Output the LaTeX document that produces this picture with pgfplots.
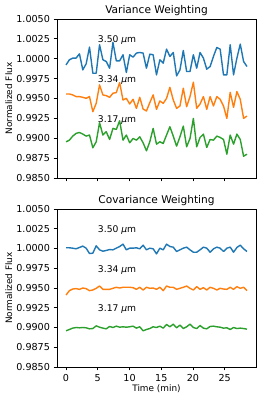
\documentclass[border=0pt]{standalone}
\usepackage{fontspec}
\setmainfont{DejaVu Sans}
\usepackage{pgfplots}
\usepackage{pgfplotstable}
\pgfplotsset{compat=1.18}
\definecolor{tabblue}{HTML}{1F77B4}
\definecolor{taborange}{HTML}{FF7F0E}
\definecolor{tabgreen}{HTML}{2CA02C}

\pgfplotstableread{
t b o g
0.000 0.99923 0.99557 0.98955
0.528 0.99987 0.99557 0.98976
1.056 1.00008 0.99545 0.99027
1.583 1.00008 0.99524 0.99061
2.111 1.00062 0.99524 0.99073
2.639 0.99860 0.99515 0.99052
3.167 0.99936 0.99502 0.99027
3.694 1.00146 0.99524 0.99040
4.222 0.99818 0.99334 0.98880
4.750 0.99818 0.99439 0.98955
5.278 1.00176 0.99671 0.99195
5.806 0.99987 0.99545 0.99040
6.333 0.99965 0.99536 0.99082
6.861 0.99881 0.99515 0.98985
7.389 1.00205 0.99566 0.99124
7.917 0.99974 0.99574 0.99111
8.444 0.99974 0.99700 0.99220
8.972 1.00050 0.99481 0.98976
9.500 0.99827 0.99502 0.99040
10.028 1.00050 0.99431 0.98943
10.556 1.00020 0.99490 0.98997
11.083 1.00071 0.99376 0.98976
11.611 1.00079 0.99515 0.99018
12.139 1.00071 0.99368 0.98943
12.667 0.99881 0.99343 0.98842
13.194 1.00058 0.99448 0.98955
13.722 1.00050 0.99545 0.99124
14.250 0.99797 0.99364 0.98926
14.778 0.99987 0.99469 0.98955
15.306 0.99944 0.99439 0.98934
15.833 1.00121 0.99502 0.99040
16.361 1.00029 0.99641 0.99145
16.889 1.00079 0.99481 0.99027
17.417 0.99784 0.99376 0.98901
17.944 0.99860 0.99406 0.99018
18.472 1.00104 0.99629 0.99153
19.000 0.99839 0.99397 0.98892
19.528 0.99839 0.99524 0.98997
20.056 1.00050 0.99705 0.99250
20.583 0.99881 0.99376 0.98892
21.111 1.00079 0.99431 0.99010
21.639 1.00008 0.99524 0.99052
22.167 0.99869 0.99364 0.98884
22.694 0.99902 0.99524 0.98985
23.222 1.00029 0.99406 0.98976
23.750 1.00142 0.99524 0.99027
24.278 1.00121 0.99490 0.99010
24.806 0.99797 0.99406 0.98985
25.333 0.99797 0.99250 0.98800
25.861 1.00176 0.99578 0.99040
26.389 0.99797 0.99389 0.98926
26.917 1.00008 0.99587 0.99052
27.444 1.00184 0.99490 0.98985
27.972 0.99965 0.99250 0.98774
28.500 0.99902 0.99279 0.98800
}\vartab

\pgfplotstableread{
t b o g
0.000 1.00009 0.99411 0.98958
0.528 1.00009 0.99466 0.98975
1.056 1.00004 0.99487 0.98992
1.583 0.99996 0.99492 0.99000
2.111 1.00013 0.99483 0.98996
2.639 1.00030 0.99500 0.99000
3.167 1.00004 0.99492 0.98996
3.694 0.99936 0.99466 0.98983
4.222 0.99941 0.99475 0.98987
4.750 1.00034 0.99496 0.99021
5.278 0.99983 0.99525 0.99004
5.806 0.99966 0.99483 0.98992
6.333 0.99975 0.99483 0.98983
6.861 0.99987 0.99483 0.99013
7.389 0.99983 0.99496 0.99000
7.917 1.00004 0.99509 0.99017
8.444 1.00025 0.99500 0.99004
8.972 1.00055 0.99509 0.99009
9.500 0.99983 0.99509 0.99004
10.028 1.00004 0.99509 0.99009
10.556 1.00004 0.99504 0.99017
11.083 1.00009 0.99483 0.98992
11.611 0.99996 0.99509 0.99009
12.139 1.00042 0.99475 0.98958
12.667 0.99983 0.99509 0.98975
13.194 1.00004 0.99496 0.98987
13.722 0.99996 0.99500 0.99009
14.250 0.99932 0.99483 0.99000
14.778 1.00004 0.99509 0.99017
15.306 0.99983 0.99466 0.98992
15.833 1.00055 0.99525 0.99038
16.361 1.00025 0.99509 0.99009
16.889 1.00017 0.99509 0.99042
17.417 0.99962 0.99483 0.98996
17.944 0.99983 0.99496 0.99030
18.472 1.00004 0.99509 0.98987
19.000 1.00017 0.99525 0.99009
19.528 0.99983 0.99496 0.99042
20.056 0.99953 0.99475 0.99000
20.583 0.99953 0.99517 0.98987
21.111 0.99983 0.99483 0.99025
21.639 1.00017 0.99504 0.98992
22.167 1.00004 0.99475 0.98983
22.694 0.99953 0.99509 0.99013
23.222 0.99996 0.99496 0.99017
23.750 1.00017 0.99475 0.99009
24.278 1.00004 0.99496 0.99004
24.806 0.99962 0.99487 0.98992
25.333 1.00004 0.99483 0.98996
25.861 1.00017 0.99509 0.98975
26.389 0.99953 0.99483 0.99000
26.917 1.00013 0.99517 0.98987
27.444 1.00042 0.99496 0.98992
27.972 0.99996 0.99509 0.98987
28.500 0.99962 0.99466 0.98979
}\covtab

\pgfplotsset{myax/.style={
  scale only axis, width=199pt,
  xmin=-1.425, xmax=29.925, ymin=0.985, ymax=1.005,
  ytick={0.985,0.9875,0.99,0.9925,0.995,0.9975,1,1.0025,1.005},
  xtick={0,5,10,15,20,25},
  tick align=outside, tick pos=left, major tick length=3.5pt,
  axis line style={line width=0.8pt, black},
  every tick/.style={black, line width=0.8pt},
  /pgf/number format/assume math mode=true,
  yticklabel style={/pgf/number format/fixed, /pgf/number format/fixed zerofill, /pgf/number format/precision=4},
  tick label style={font=\fontsize{9.6}{11}\selectfont},
  ylabel={Normalized Flux},
  ylabel style={font=\fontsize{8.9}{10}\selectfont, at={(axis description cs:-0.242,0.5)}, anchor=center},
  every axis title shift=0pt,
  title style={font=\fontsize{10.6}{12}\selectfont, at={(axis description cs:0.5,1)}, anchor=base, yshift=5pt, inner sep=0pt},
  every axis plot/.append style={line width=1.4pt, mark=none, line join=round},
  clip=false,
}}

\begin{document}
\begin{tikzpicture}
\path[use as bounding box] (0,0) rectangle (266pt,401pt);
\begin{axis}[myax, at={(57pt,223pt)}, anchor=south west, height=159pt,
  title={Variance Weighting}, xticklabels={}]
\addplot[tabblue] table[x=t,y=b] {\vartab};
\addplot[taborange] table[x=t,y=o] {\vartab};
\addplot[tabgreen] table[x=t,y=g] {\vartab};
\node[anchor=base west, inner sep=0pt, font=\fontsize{9.2}{10}\selectfont] at (axis cs:5,1.002) {3.50 {\itshape μ}m};
\node[anchor=base west, inner sep=0pt, font=\fontsize{9.2}{10}\selectfont] at (axis cs:5,0.997) {3.34 {\itshape μ}m};
\node[anchor=base west, inner sep=0pt, font=\fontsize{9.2}{10}\selectfont] at (axis cs:5,0.992) {3.17 {\itshape μ}m};
\end{axis}
\begin{axis}[myax, at={(57pt,34pt)}, anchor=south west, height=158pt,
  title={Covariance Weighting},
  xlabel={Time (min)},
  xlabel style={font=\fontsize{8.9}{10}\selectfont, at={(axis description cs:0.5,-0.139)}, anchor=center}]
\addplot[tabblue] table[x=t,y=b] {\covtab};
\addplot[taborange] table[x=t,y=o] {\covtab};
\addplot[tabgreen] table[x=t,y=g] {\covtab};
\node[anchor=base west, inner sep=0pt, font=\fontsize{9.2}{10}\selectfont] at (axis cs:5,1.002) {3.50 {\itshape μ}m};
\node[anchor=base west, inner sep=0pt, font=\fontsize{9.2}{10}\selectfont] at (axis cs:5,0.997) {3.34 {\itshape μ}m};
\node[anchor=base west, inner sep=0pt, font=\fontsize{9.2}{10}\selectfont] at (axis cs:5,0.992) {3.17 {\itshape μ}m};
\end{axis}
\end{tikzpicture}
\end{document}
